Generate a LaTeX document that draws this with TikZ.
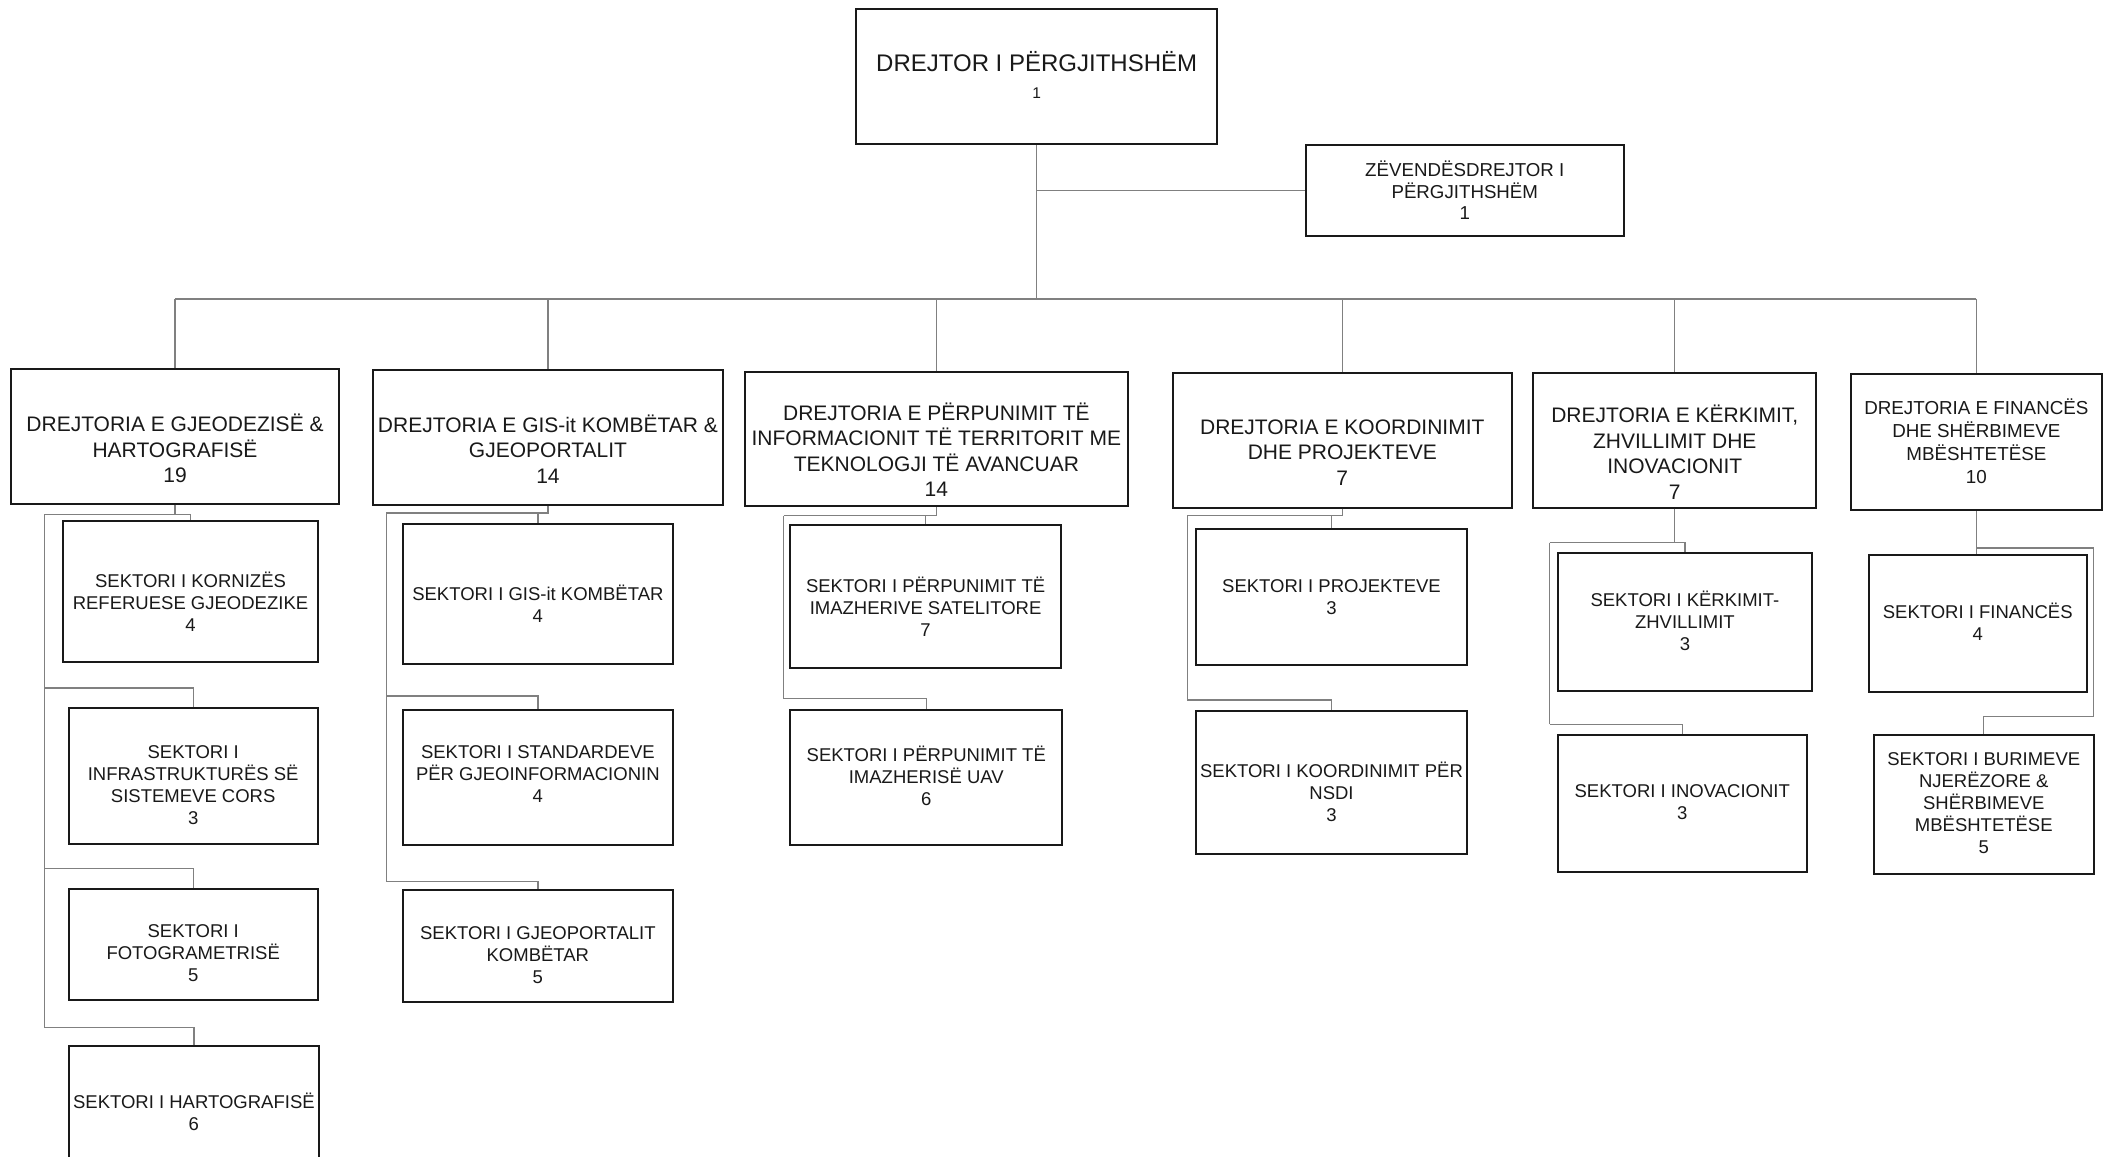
\documentclass[tikz,border=0pt]{standalone}
\usepackage{fontspec}
\setmainfont{Liberation Sans}
\usetikzlibrary{fit,calc}
\definecolor{conncol}{gray}{0.5}
\definecolor{boxcol}{gray}{0.1}
\definecolor{txtcol}{gray}{0.1}
\begin{document}
\begin{tikzpicture}[x=1.3463pt,y=-1.3463pt,
  box/.style={draw=boxcol, line width=2pt, inner sep=0pt},
  conn/.style={draw=conncol, line width=1.3pt},
  txt/.style={text=txtcol, align=center, inner sep=0pt},
  dtxt/.style={txt, font=\fontsize{21}{25.6}\selectfont},
  stxt/.style={txt, font=\fontsize{18.5}{22}\selectfont}]
\useasboundingbox[fill=white] (0,0) rectangle (1568,859);

% ---------- boxes ----------
\node[box, fit={(636,7)(904,107)}] (main) {};
\node[box, fit={(970,108)(1206,175)}] (dep) {};

\node[box, fit={(8,274)(252,374)}] (d1) {};
\node[box, fit={(277,275)(537,375)}] (d2) {};
\node[box, fit={(553,276)(838,376)}] (d3) {};
\node[box, fit={(871,277)(1123,377)}] (d4) {};
\node[box, fit={(1139,277)(1349,377)}] (d5) {};
\node[box, fit={(1375,278)(1561,379)}] (d6) {};

\node[box, fit={(47,387)(236,492)}] (s11) {};
\node[box, fit={(51,526)(236,627)}] (s12) {};
\node[box, fit={(51,660)(236,743)}] (s13) {};
\node[box, fit={(51,777)(237,872)}] (s14) {};

\node[box, fit={(299,389)(500,493)}] (s21) {};
\node[box, fit={(299,527)(500,628)}] (s22) {};
\node[box, fit={(299,661)(500,744)}] (s23) {};

\node[box, fit={(587,390)(788,496)}] (s31) {};
\node[box, fit={(587,527)(789,628)}] (s32) {};

\node[box, fit={(888,393)(1090,494)}] (s41) {};
\node[box, fit={(888,528)(1090,634)}] (s42) {};

\node[box, fit={(1157,411)(1346,513)}] (s51) {};
\node[box, fit={(1157,546)(1342,648)}] (s52) {};

\node[box, fit={(1388,412)(1550,514)}] (s61) {};
\node[box, fit={(1392,546)(1555,649)}] (s62) {};

% ---------- texts ----------
\node[txt, font=\fontsize{24}{28}\selectfont] (maint) at ($(main.center)+(0,-11)$) {DREJTOR I PËRGJITHSHËM};
\node[txt, font=\fontsize{15.5}{18}\selectfont] (mainn) at ($(main.center)+(0,12)$) {1};
\node[txt, font=\fontsize{18.7}{21.5}\selectfont] (dept) at (dep.center) {ZËVENDËSDREJTOR I\\PËRGJITHSHËM\\1};

\node[dtxt] (d1t) at ($(d1.center)+(0,9)$) {DREJTORIA E GJEODEZISË \&\\HARTOGRAFISË\\19};
\node[dtxt] (d2t) at ($(d2.center)+(0,8.5)$) {DREJTORIA E GIS-it KOMBËTAR \&\\GJEOPORTALIT\\14};
\node[dtxt] (d3t) at ($(d3.center)+(0,8)$) {DREJTORIA E PËRPUNIMIT TË\\INFORMACIONIT TË TERRITORIT ME\\TEKNOLOGJI TË AVANCUAR\\14};
\node[dtxt] (d4t) at ($(d4.center)+(0,9)$) {DREJTORIA E KOORDINIMIT\\DHE PROJEKTEVE\\7};
\node[dtxt] (d5t) at ($(d5.center)+(0,9)$) {DREJTORIA E KËRKIMIT,\\ZHVILLIMIT DHE\\INOVACIONIT\\7};
\node[txt, font=\fontsize{18.8}{23}\selectfont] (d6t) at ($(d6.center)+(0,-1)$) {DREJTORIA E FINANCËS\\DHE SHËRBIMEVE\\MBËSHTETËSE\\10};

\node[stxt] (s11t) at ($(s11.center)+(0,7.5)$) {SEKTORI I KORNIZËS\\REFERUESE GJEODEZIKE\\4};
\node[stxt] (s12t) at ($(s12.center)+(0,6.5)$) {SEKTORI I\\INFRASTRUKTURËS SË\\SISTEMEVE CORS\\3};
\node[stxt] (s13t) at ($(s13.center)+(0,6.5)$) {SEKTORI I\\FOTOGRAMETRISË\\5};
\node[stxt] (s14t) at ($(s14.north)+(0,49.5)$) {SEKTORI I HARTOGRAFISË\\6};

\node[stxt] (s21t) at ($(s21.center)+(0,7.5)$) {SEKTORI I GIS-it KOMBËTAR\\4};
\node[stxt] (s22t) at ($(s22.center)+(0,-2.5)$) {SEKTORI I STANDARDEVE\\PËR GJEOINFORMACIONIN\\4};
\node[stxt] (s23t) at ($(s23.center)+(0,7)$) {SEKTORI I GJEOPORTALIT\\KOMBËTAR\\5};

\node[stxt] (s31t) at ($(s31.center)+(0,7.5)$) {SEKTORI I PËRPUNIMIT TË\\IMAZHERIVE SATELITORE\\7};
\node[stxt] (s32t) at ($(s32.center)+(0,-1)$) {SEKTORI I PËRPUNIMIT TË\\IMAZHERISË UAV\\6};

\node[stxt] (s41t) at (s41.center) {SEKTORI I PROJEKTEVE\\3};
\node[stxt] (s42t) at ($(s42.center)+(0,7.5)$) {SEKTORI I KOORDINIMIT PËR\\NSDI\\3};

\node[stxt] (s51t) at ($(s51.center)+(0,-1)$) {SEKTORI I KËRKIMIT-\\ZHVILLIMIT\\3};
\node[stxt] (s52t) at ($(s52.center)+(0,-1.5)$) {SEKTORI I INOVACIONIT\\3};

\node[stxt] (s61t) at ($(s61.center)+(0,-1.5)$) {SEKTORI I FINANCËS\\4};
\node[stxt] (s62t) at ($(s62.center)+(0,-1)$) {SEKTORI I BURIMEVE\\NJERËZORE \&\\SHËRBIMEVE\\MBËSHTETËSE\\5};

% ---------- top connectors ----------
\coordinate (bus) at (0,222);
\draw[conn] (main.south) -- (main.south |- bus);
\draw[conn] (main.south |- dep.west) -- (dep.west);
\draw[conn] (d1.north |- bus) -- (d6.north |- bus);
\foreach \d in {d1,d2,d3,d4,d5,d6}{
  \draw[conn] (\d.north |- bus) -- (\d.north);
}

% ---------- column 1 ----------
\coordinate (b1) at (33,382);
\coordinate (c12) at (33,511);
\coordinate (c13) at (33,645);
\coordinate (c14) at (33,763);
\draw[conn] (d1.south) -- (d1.south |- b1);
\draw[conn] (b1) -| (s11.north);
\draw[conn] (b1) -- (c14);
\draw[conn] (c12) -| (s12.north);
\draw[conn] (c13) -| (s13.north);
\draw[conn] (c14) -| (s14.north);

% ---------- column 2 ----------
\coordinate (b2) at (287,381);
\coordinate (c22) at (287,517);
\coordinate (c23) at (287,655);
\draw[conn] (d2.south) -- (d2.south |- b2) -- (b2);
\draw[conn] (s21.north |- b2) -- (s21.north);
\draw[conn] (b2) -- (c23);
\draw[conn] (c22) -| (s22.north);
\draw[conn] (c23) -| (s23.north);

% ---------- column 3 ----------
\coordinate (b3) at (582,383);
\coordinate (c32) at (582,519);
\draw[conn] (d3.south) -- (d3.south |- b3) -- (b3);
\draw[conn] (s31.north |- b3) -- (s31.north);
\draw[conn] (b3) -- (c32);
\draw[conn] (c32) -| (s32.north);

% ---------- column 4 ----------
\coordinate (b4) at (882,383);
\coordinate (c42) at (882,520);
\draw[conn] (d4.south) -- (d4.south |- b4) -- (b4);
\draw[conn] (s41.north |- b4) -- (s41.north);
\draw[conn] (b4) -- (c42);
\draw[conn] (c42) -| (s42.north);

% ---------- column 5 ----------
\coordinate (b5) at (1151,403);
\coordinate (c52) at (1151,538);
\draw[conn] (d5.south) -- (d5.south |- b5);
\draw[conn] (b5) -| (s51.north);
\draw[conn] (b5) -- (c52);
\draw[conn] (c52) -| (s52.north);

% ---------- column 6 ----------
\coordinate (b6) at (1555,407);
\coordinate (c62) at (1555,532);
\draw[conn] (d6.south) -- (d6.south |- s61.north);
\draw[conn] (d6.south |- b6) -- (b6) -- (c62) -| (s62.north);
\end{tikzpicture}
\end{document}
